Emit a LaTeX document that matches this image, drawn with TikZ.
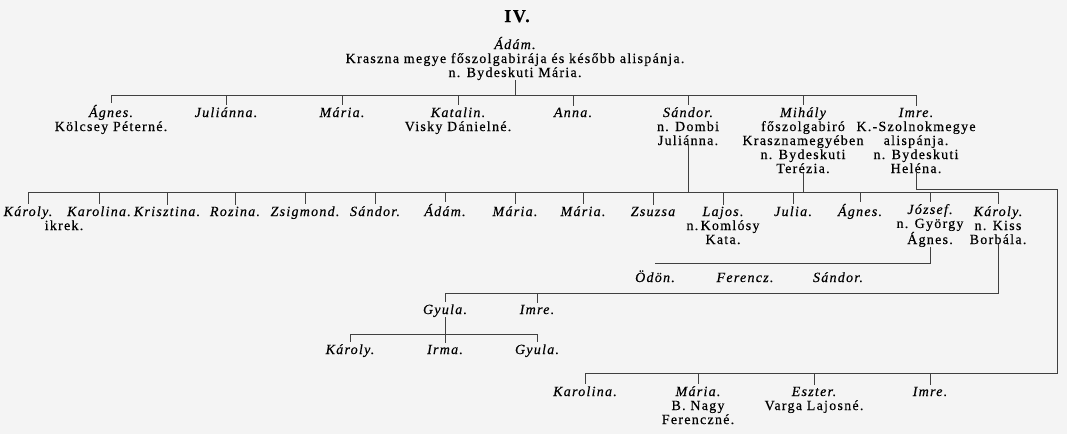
\documentclass[tikz,border=0pt]{standalone}
\usepackage{fontspec}
\newfontfamily\oldfont{Liberation Serif}[LetterSpace=9, FakeBold=0.4]
\newcommand\gtext{\oldfont\upshape\fontsize{14}{14}\selectfont}
\newcommand\gname{\oldfont\itshape\fontsize{14}{14}\selectfont}
\definecolor{paper}{HTML}{F4F4F4}

\begin{document}
\begin{tikzpicture}[x=1pt, y=-1pt, every node/.style={inner sep=0pt, anchor=base, align=center, font=\gtext}]

% Define styles
\tikzstyle{person} = [font=\gname]
\tikzstyle{link} = [line width=0.7pt, draw=black!75]

\fill[paper] (0,0) rectangle (1067,434);
\useasboundingbox (0,0) rectangle (1067,434);

% Bars (multi-line nodes sit on their last line)
\coordinate (b1) at (0,95);
\coordinate (b2) at (0,192);
\coordinate (b3) at (0,263);
\coordinate (b4) at (0,293);
\coordinate (b5) at (0,334);
\coordinate (b6) at (0,373);
\coordinate (r1) at (1057,189);

% Nodes
\node[font=\oldfont\bfseries\fontsize{18}{20}\selectfont] (title) at (517,22) {IV.};
\node (adam) at (515,77) {{\gname Ádám.}\\Kraszna megye főszolgabirája és később alispánja.\\n. Bydeskuti Mária.};

\node (agnes1) at (111,131) {{\gname Ágnes.}\\Kölcsey Péterné.};
\node[person] (julianna1) at (226,117) {Juliánna.};
\node[person] (maria1) at (342,117) {Mária.};
\node (katalin1) at (458,131) {{\gname Katalin.}\\Visky Dánielné.};
\node[person] (anna1) at (573,117) {Anna.};
\node (sandor1) at (688,145) {{\gname Sándor.}\\n. Dombi\\Juliánna.};
\node (mihaly1) at (803,173) {{\gname Mihály}\\főszolgabiró\\Krasznamegyében\\n. Bydeskuti\\Terézia.};
\node (imre1) at (916,173) {{\gname Imre.}\\K.-Szolnokmegye\\alispánja.\\n. Bydeskuti\\Heléna.};
\draw[link] (adam.south) -- (adam.south |- b1);
\draw[link] (agnes1.north |- b1) -- (imre1.north |- b1);
\foreach \n in {agnes1,julianna1,maria1,katalin1,anna1,sandor1,mihaly1,imre1}
  \draw[link] (\n.north |- b1) -- ([yshift=2pt]\n.north);

\node[person] (karoly2) at (28,216) {Károly.};
\node (twins) at (64,230) {ikrek.};
\node[person] (karolina2) at (99,216) {Karolina.};
\node[person] (krisztina2) at (167,216) {Krisztina.};
\node[person] (rozina2) at (235,216) {Rozina.};
\node[person] (zsigmond2) at (305,216) {Zsigmond.};
\node[person] (sandor2) at (375,216) {Sándor.};
\node[person] (adam2) at (445,216) {Ádám.};
\node[person] (maria2) at (515,216) {Mária.};
\node[person] (mariab2) at (583,216) {Mária.};
\node[person] (zsuzsa2) at (653,216) {Zsuzsa};
\node (lajos2) at (723,244) {{\gname Lajos.}\\n.\,Komlósy\\Kata.};
\node[person] (julia2) at (793,216) {Julia.};
\node[person] (agnes2) at (860,216) {Ágnes.};
\node (jozsef2) at (930,244) {{\gname József.}\\n. György\\Ágnes.};
\node (karolyb2) at (998,244) {{\gname Károly.}\\n. Kiss\\Borbála.};
\draw[link] (sandor1.south) -- (sandor1.south |- b2);
\draw[link] (mihaly1.south) -- (mihaly1.south |- b2);
\draw[link] (karoly2.north |- b2) -- (karolyb2.north |- b2);
\foreach \n in {karoly2,karolina2,krisztina2,rozina2,zsigmond2,sandor2,adam2,maria2,mariab2,zsuzsa2,lajos2,julia2,agnes2,jozsef2,karolyb2}
  \draw[link] (\n.north |- b2) -- ([yshift=2pt]\n.north);

\node[person] (odon3) at (655,282) {Ödön.};
\node[person] (ferencz3) at (745,282) {Ferencz.};
\node[person] (sandor3) at (838,282) {Sándor.};
\draw[link] (jozsef2.south) |- (odon3.north |- b3);

\node[person] (gyula4) at (445,314) {Gyula.};
\node[person] (imre4) at (537,314) {Imre.};
\draw[link] (karolyb2.south) |- (gyula4.north |- b4);
\foreach \n in {gyula4,imre4}
  \draw[link] (\n.north |- b4) -- ([yshift=2pt]\n.north);

\node[person] (karoly5) at (350,354) {Károly.};
\node[person] (irma5) at (445,354) {Irma.};
\node[person] (gyula5) at (537,354) {Gyula.};
\draw[link] (gyula4.south) -- (gyula4.south |- b5);
\draw[link] (karoly5.north |- b5) -- (gyula5.north |- b5);
\foreach \n in {karoly5,irma5,gyula5}
  \draw[link] (\n.north |- b5) -- ([yshift=2pt]\n.north);

\node[person] (karolina6) at (585,396) {Karolina.};
\node (maria6) at (698,424) {{\gname Mária.}\\B. Nagy\\Ferenczné.};
\node (eszter6) at (814,410) {{\gname Eszter.}\\Varga Lajosné.};
\node[person] (imre6) at (930,396) {Imre.};
\draw[link] (imre1.south) |- (r1) -- (r1 |- b6) -- (karolina6.north |- b6);
\foreach \n in {karolina6,maria6,eszter6,imre6}
  \draw[link] (\n.north |- b6) -- ([yshift=2pt]\n.north);

\end{tikzpicture}
\end{document}
